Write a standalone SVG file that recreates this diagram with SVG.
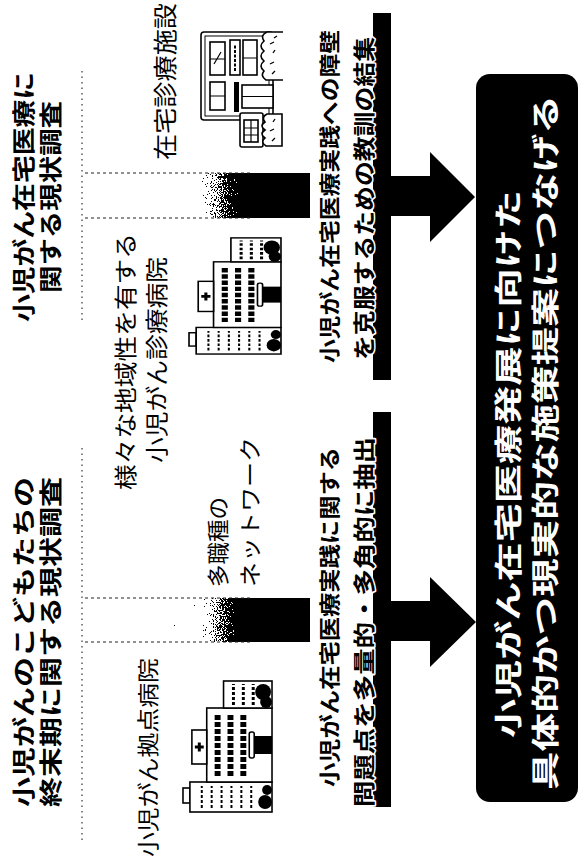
<svg xmlns="http://www.w3.org/2000/svg" width="582" height="868" viewBox="0 0 582 868">
  <style>
    text { font-family: "Noto Sans CJK JP", "Noto Sans CJK SC", sans-serif; fill: #000; }
    .b { font-weight: 700; }
    .r { font-weight: 400; }
    .w { fill: #fff; }
    .halo { paint-order: stroke; stroke: #fff; stroke-width: 3; stroke-linejoin: round; }
    .ln { fill: #fff; stroke: #000; stroke-width: 1.6; }
    .dk { fill: #000; }
    .dots { fill: none; stroke: #333; stroke-width: 1.2; stroke-dasharray: 1.5 4; }
    .edge { fill: none; stroke: #222; stroke-width: 1; stroke-dasharray: 3 3; }
  </style>
  <defs>
    <!-- white-to-black fade used by the two vertical feeder bands -->
    <linearGradient id="fade" x1="0" y1="0" x2="0" y2="1">
      <stop offset="0" stop-color="#fff"/>
      <stop offset="0.48" stop-color="#fff"/>
      <stop offset="0.72" stop-color="#000"/>
      <stop offset="1" stop-color="#000"/>
    </linearGradient>

    <!-- speckled halftone for the fade: grey noise added, then thresholded -->
    <filter id="grain" x="0" y="0" width="1" height="1" color-interpolation-filters="sRGB">
      <feTurbulence type="fractalNoise" baseFrequency="0.9" numOctaves="2" seed="7" result="noise"/>
      <feColorMatrix in="noise" type="matrix" values="1 0 0 0 0  1 0 0 0 0  1 0 0 0 0  0 0 0 0 1" result="grey"/>
      <feComposite in="SourceGraphic" in2="grey" operator="arithmetic" k1="0" k2="1" k3="1.3" k4="-0.65" result="mix"/>
      <feComponentTransfer in="mix">
        <feFuncR type="discrete" tableValues="0 1"/>
        <feFuncG type="discrete" tableValues="0 1"/>
        <feFuncB type="discrete" tableValues="0 1"/>
        <feFuncA type="linear" slope="0" intercept="1"/>
      </feComponentTransfer>
    </filter>

    <!-- hospital building pictogram, drawn upright in a 150 x 92 box -->
    <symbol id="hospital" viewBox="0 0 150 92" preserveAspectRatio="none">
      <rect class="ln" x="27" y="1" width="15" height="7"/>
      <rect class="ln" x="18" y="8" width="30" height="83"/>
      <path d="M22 20H44M22 30H44M22 40H44M22 50H44M22 60H44M22 70H44" stroke="#000" stroke-width="2" stroke-dasharray="3 2"/>
      <rect class="ln" x="48" y="25" width="74" height="66"/>
      <rect class="ln" x="66" y="10" width="34" height="15"/>
      <path d="M83 13V22M78.5 17.5H87.5" stroke="#000" stroke-width="3"/>
      <path d="M54 36H116M54 49H116M54 62H116" stroke="#000" stroke-width="6" stroke-dasharray="5 2"/>
      <rect class="ln" x="72" y="68" width="26" height="5" rx="2"/>
      <rect class="dk" x="76" y="73" width="18" height="18"/>
      <rect class="ln" x="122" y="42" width="27" height="49"/>
      <path d="M125 52H146M125 62H146M125 72H146" stroke="#000" stroke-width="3" stroke-dasharray="3 2"/>
      <circle class="dk" cx="138" cy="82" r="8"/>
      <circle class="dk" cx="128" cy="85" r="6"/>
      <circle class="dk" cx="28" cy="84" r="7"/>
      <circle class="dk" cx="40" cy="86" r="5"/>
    </symbol>

    <!-- home-care clinic pictogram, drawn upright in a 118 x 83 box -->
    <symbol id="clinic" viewBox="0 0 118 83" preserveAspectRatio="none">
      <rect class="ln" x="28" y="1" width="88" height="72" rx="3"/>
      <rect fill="none" stroke="#000" stroke-width="1" x="32" y="5" width="80" height="64"/>
      <rect class="ln" x="38" y="10" width="28" height="15"/>
      <path d="M52 10V25" stroke="#000" stroke-width="1.2"/>
      <rect class="ln" x="73" y="10" width="33" height="15"/>
      <path d="M84 14L96 21M89 10V25" stroke="#000" stroke-width="1.2"/>
      <rect class="ln" x="73" y="30" width="35" height="10"/>
      <path d="M77 35H104" stroke="#000" stroke-width="2" stroke-dasharray="3 1.5"/>
      <rect class="ln" x="73" y="43" width="35" height="14"/>
      <path d="M90 43V57" stroke="#000" stroke-width="1.2"/>
      <rect class="dk" x="36" y="34" width="30" height="5"/>
      <rect class="ln" x="40" y="42" width="23" height="31"/>
      <path d="M51.5 42V73" stroke="#000" stroke-width="1.2"/>
      <rect class="ln" x="1" y="40" width="34" height="23" rx="2"/>
      <rect class="ln" x="6" y="44" width="22" height="14"/>
      <path d="M6 51H28M13 44V58M20 44V58" stroke="#000" stroke-width="1.2"/>
      <path class="ln" d="M68 66 q4 -6 9 -2 q5 -6 10 0 q5 -6 10 0 q5 -6 10 0 q6 -4 9 3 v17 h-48 z"/>
      <path d="M74 72l3 3M84 70l2 4M95 73l3 2M104 70l2 4M110 74l2 3" stroke="#000" stroke-width="1.3"/>
      <path class="ln" d="M2 66 q4 -6 8 -1 q4 -6 8 0 q4 -6 8 0 q5 -4 8 2 v15 h-32 z"/>
      <path d="M7 72l3 3M17 70l2 4M26 73l3 2" stroke="#000" stroke-width="1.3"/>
    </symbol>
  </defs>

  <rect width="582" height="868" fill="#fff"/>

  <!-- the whole sheet is laid out landscape (868 x 582) and turned a quarter turn -->
  <g transform="translate(0,868) rotate(-90)">

    <!-- survey heading: end-of-life situation -->
    <g id="survey-endoflife">
      <text class="b" font-size="23" x="61" y="31.5" textLength="330" lengthAdjust="spacingAndGlyphs">小児がんのこどもたちの</text>
      <text class="b" font-size="23" x="61" y="58.5" textLength="330" lengthAdjust="spacingAndGlyphs">終末期に関する現状調査</text>
      <line class="dots" x1="28" y1="82" x2="421" y2="82"/>
    </g>

    <!-- survey heading: home care situation -->
    <g id="survey-homecare">
      <text class="b" font-size="23" x="546" y="31.5" textLength="250" lengthAdjust="spacingAndGlyphs">小児がん在宅医療に</text>
      <text class="b" font-size="23" x="575" y="58.5" textLength="192" lengthAdjust="spacingAndGlyphs">関する現状調査</text>
      <line class="dots" x1="548" y1="82" x2="798" y2="82"/>
    </g>

    <!-- participating institutions -->
    <g id="base-hospital">
      <text class="r" font-size="22" x="11" y="155.5" textLength="199" lengthAdjust="spacingAndGlyphs">小児がん拠点病院</text>
      <use href="#hospital" x="38" y="182" width="150" height="91"/>
    </g>

    <g id="network">
      <text class="r" font-size="22" x="281" y="226" textLength="90" lengthAdjust="spacingAndGlyphs">多職種の</text>
      <text class="r" font-size="22" x="281" y="258" textLength="150" lengthAdjust="spacingAndGlyphs">ネットワーク</text>
    </g>

    <g id="regional-hospital">
      <text class="r" font-size="23" x="378" y="134" textLength="257" lengthAdjust="spacingAndGlyphs">様々な地域性を有する</text>
      <text class="r" font-size="23" x="405" y="165" textLength="206" lengthAdjust="spacingAndGlyphs">小児がん診療病院</text>
      <use href="#hospital" x="498" y="188" width="133" height="94"/>
    </g>

    <g id="homecare-clinic">
      <text class="r" font-size="24" x="708" y="174" textLength="157" lengthAdjust="spacingAndGlyphs">在宅診療施設</text>
      <use href="#clinic" x="720" y="200" width="118" height="83"/>
    </g>

    <!-- connectors: fading feeder bands and the two block arrows -->
    <g id="connectors">
      <rect x="226" y="85" width="44" height="225" fill="url(#fade)" filter="url(#grain)"/>
      <path class="edge" d="M226 85V250M270 85V250"/>
      <rect x="650" y="85" width="45" height="225" fill="url(#fade)" filter="url(#grain)"/>
      <path class="edge" d="M650 85V250M695 85V250"/>

      <path class="dk" d="M61 373H456V391H267V430H291L246 476L201 430H227V391H61Z"/>
      <path class="dk" d="M488 373H855V391H692V430H716L671 475L626 430H652V391H488Z"/>
    </g>

    <!-- findings carried by each arrow -->
    <g id="finding-problems">
      <text class="b" font-size="21" x="81" y="336.5" textLength="340" lengthAdjust="spacingAndGlyphs">小児がん在宅医療実践に関する</text>
      <text class="b halo" font-size="22" x="61" y="371.5" textLength="370" lengthAdjust="spacingAndGlyphs">問題点を多量的・多角的に抽出</text>
    </g>

    <g id="finding-lessons">
      <text class="b" font-size="21" x="505" y="336.5" textLength="333" lengthAdjust="spacingAndGlyphs">小児がん在宅医療実践への障壁</text>
      <text class="b halo" font-size="22" x="508" y="371.5" textLength="323" lengthAdjust="spacingAndGlyphs">を克服するための教訓の結集</text>
    </g>

    <!-- outcome -->
    <g id="outcome">
      <rect class="dk" x="66" y="476" width="728" height="102" rx="14"/>
      <text class="b w" font-size="28" x="130" y="519" textLength="548" lengthAdjust="spacingAndGlyphs">小児がん在宅医療発展に向けた</text>
      <text class="b w" font-size="28" x="78" y="556" textLength="695" lengthAdjust="spacingAndGlyphs">具体的かつ現実的な施策提案につなげる</text>
    </g>
  </g>
</svg>
